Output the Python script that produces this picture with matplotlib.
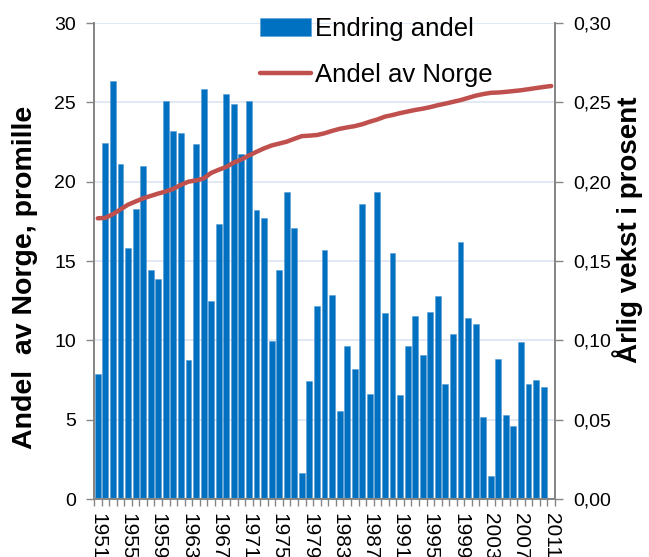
import matplotlib
matplotlib.use("Agg")
import matplotlib.pyplot as plt
import numpy as np

plt.rcParams['font.family'] = ['Liberation Sans', 'DejaVu Sans']

years = list(range(1951, 2012))

# Endring andel (right axis, annual change)
endring = [0.0788, 0.2241, 0.2636, 0.2113, 0.1582, 0.1825, 0.2096, 0.1441, 0.1384, 0.2508,
           0.2317, 0.2306, 0.0874, 0.2235, 0.2584, 0.1246, 0.1735, 0.2550, 0.2489, 0.2172,
           0.2508, 0.1819, 0.1771, 0.0993, 0.1441, 0.1934, 0.1708, 0.0164, 0.0744, 0.1214,
           0.1569, 0.1283, 0.0555, 0.0966, 0.0819, 0.1857, 0.0662, 0.1934, 0.1172, 0.1548,
           0.0653, 0.0962, 0.1151, 0.0905, 0.1178, 0.1281, 0.0727, 0.1042, 0.1617, 0.1141,
           0.1101, 0.0519, 0.0145, 0.0882, 0.0529, 0.0458, 0.0989, 0.0723, 0.0748, 0.0706,
           np.nan]

# Andel av Norge (left axis, promille)
andel = [17.69, 17.72, 17.95, 18.25, 18.55, 18.75, 18.95, 19.10, 19.25, 19.38,
         19.55, 19.80, 20.00, 20.08, 20.20, 20.55, 20.75, 20.93, 21.20, 21.40,
         21.65, 21.88, 22.10, 22.28, 22.40, 22.52, 22.70, 22.87, 22.90, 22.94,
         23.05, 23.20, 23.33, 23.42, 23.50, 23.62, 23.78, 23.92, 24.10, 24.20,
         24.32, 24.42, 24.52, 24.60, 24.70, 24.82, 24.92, 25.03, 25.14, 25.28,
         25.42, 25.52, 25.60, 25.62, 25.66, 25.71, 25.76, 25.83, 25.90, 25.97,
         26.03]

left_ticks = [0, 5, 10, 15, 20, 25, 30]
right_ticks = [0.0, 0.05, 0.10, 0.15, 0.20, 0.25, 0.30]
right_ticklabels = ['0,00', '0,05', '0,10', '0,15', '0,20', '0,25', '0,30']

fig = plt.figure(figsize=(6.49, 5.57), dpi=100)
ax = fig.add_axes([94/649, 58/557, 461/649, 476/557])
ax2 = ax.twinx()

x = np.arange(len(years))
spine_col = '#868686'
grid_col = '#dce6f2'

# bars on right axis
ax2.bar(x, endring, width=0.78, color='#0070C0', edgecolor='#5b9bd5', linewidth=0.4,
        label='Endring andel', zorder=2)
ax2.set_ylim(0, 0.30)
ax2.set_yticks(right_ticks)
ax2.set_yticklabels(right_ticklabels)
ax2.yaxis.grid(True, color=grid_col, linewidth=1.2, zorder=0)
ax2.set_axisbelow(True)

# line on left axis, drawn above bars
ax.set_zorder(ax2.get_zorder() + 1)
ax.patch.set_visible(False)
ax.plot(x, andel, color='#C0504D', linewidth=3.2, solid_capstyle='round',
        label='Andel av Norge', zorder=3)
ax.set_ylim(0, 30)
ax.set_yticks(left_ticks)
ax.set_xlim(-0.5, len(years) - 0.5)

# x ticks
label_idx = list(range(0, len(years), 4))
ax.set_xticks(label_idx)
ax.set_xticklabels([str(years[i]) for i in label_idx], rotation=-90, fontsize=15)
ax.set_xticks(np.arange(-0.5, len(years) + 0.5, 1), minor=True)
ax.tick_params(axis='x', which='major', length=0, pad=10)
ax.tick_params(axis='x', which='minor', length=5, color=spine_col, width=1)

ax.tick_params(axis='y', length=6, color=spine_col, width=1, labelsize=14, pad=7)
ax2.tick_params(axis='y', length=6, color=spine_col, width=1, labelsize=14, pad=7)

for a in (ax, ax2):
    a.spines['top'].set_visible(False)
    for s in ('left', 'right', 'bottom'):
        a.spines[s].set_color(spine_col)
        a.spines[s].set_linewidth(1.3)

fig.text(25/649, 1 - 277/557, 'Andel  av Norge, promille', rotation=90, ha='center', va='center',
         fontsize=20.5, fontweight='bold')
fig.text(628/649, 1 - 230/557, 'Årlig vekst i prosent', rotation=90, ha='center', va='center',
         fontsize=20, fontweight='bold')

h1, l1 = ax2.get_legend_handles_labels()
h2, l2 = ax.get_legend_handles_labels()
leg = ax.legend(h1 + h2, l1 + l2, loc='upper left', bbox_to_anchor=(243/649, 1.0),
                bbox_transform=fig.transFigure, frameon=False, fontsize=18.5,
                handlelength=2.0, handletextpad=0.16, labelspacing=0.85, borderpad=0.15)

fig.savefig('out.png', dpi=100)
